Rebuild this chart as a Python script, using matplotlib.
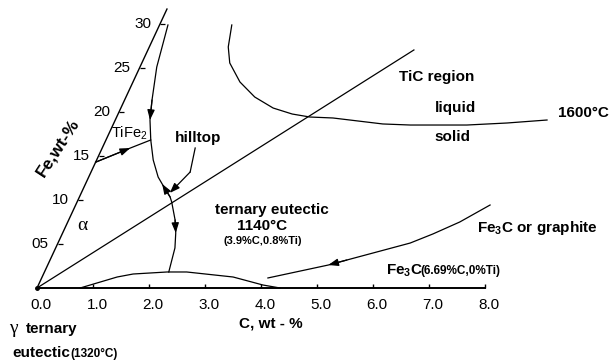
import matplotlib
matplotlib.use("Agg")
import matplotlib.pyplot as plt
import matplotlib.transforms as mtransforms
from matplotlib.markers import TICKUP, TICKRIGHT

plt.rcParams['font.family'] = ['Liberation Sans', 'DejaVu Sans']
plt.rcParams['mathtext.fontset'] = 'custom'
plt.rcParams['mathtext.rm'] = 'Liberation Sans'

# ---------------- data (C wt-%, Fe wt-%) ----------------
c_ticks = [1, 2, 3, 4, 5, 6, 7, 8]
c_tick_labels = ['0.0', '1.0', '2.0', '3.0', '4.0', '5.0', '6.0', '7.0', '8.0']
c_label_pos = [0, 1, 2, 3, 4, 5, 6, 7, 8]
fe_ticks = [5, 10, 15, 20, 25, 30]
fe_tick_labels = ['05', '10', '15', '20', '25', '30']
c_axis_max = 8.0
fe_axis_max = 31.7

# Fe/C ratio line
diag_C = [0.0, 4.75]
diag_Fe = [0.0, 27.05]

# eutectic valley curve (top to bottom)
valley_C = [0.15, 0.30, 0.49, 0.62, 0.80, 1.01, 1.24, 1.37, 1.62, 1.69, 1.90, 2.02, 2.13, 2.22]
valley_Fe = [29.89, 25.11, 21.36, 19.09, 16.82, 14.55, 12.61, 11.82, 10.34, 9.77, 7.73, 6.25, 4.55, 1.82]
valley_arrows = [(2, 3), (8, 7), (10, 11)]

# TiFe2 line
tife_C = [0.0, 0.50, 0.80]
tife_Fe = [14.3, 15.9, 16.82]
tife_arrows = [(0, 1)]

# liquid/solid boundary at 1600 C
liq_C = [1.29, 1.41, 1.57, 1.91, 2.30, 2.72, 3.11, 3.45, 3.87, 4.81, 5.31, 6.32, 7.02, 7.71]
liq_Fe = [29.89, 27.39, 25.57, 23.41, 21.70, 20.45, 19.77, 19.43, 19.32, 18.64, 18.52, 18.52, 18.75, 19.09]

# gamma region bump
bump_C = [0.77, 1.34, 1.60, 2.19, 2.54, 3.41, 4.01, 4.34]
bump_Fe = [0.0, 1.25, 1.59, 1.82, 1.82, 1.25, 0.34, 0.0]

# Fe3C / graphite line
fe3c_C = [4.04, 5.01, 5.30, 6.29, 6.62, 7.00, 7.40]
fe3c_Fe = [1.14, 2.61, 3.18, 5.11, 6.14, 7.50, 9.43]
fe3c_arrows = [(2, 1)]

# hilltop pointer
hill_C = [1.66, 1.77, 1.58]
hill_Fe = [15.91, 13.18, 10.80]

# ---------------- figure ----------------
W, H = 609, 364
fig = plt.figure(figsize=(W / 100, H / 100), dpi=100)
ax = fig.add_axes([0, 0, 1, 1])
ax.axis('off')
px_per_c = 56.0
px_per_fe = 8.8
x0, y0 = 37.0, 288.0
ax.set_xlim(-x0 / px_per_c, (W - x0) / px_per_c)
ax.set_ylim(-(H - y0) / px_per_fe, y0 / px_per_fe)
skew_k = 4.1 / px_per_c
T = mtransforms.Affine2D().from_values(1, 0, skew_k, 1, 0, 0) + ax.transData

lw = 0.9
def line(cs, fes, **kw):
    kw.setdefault('lw', lw)
    ax.plot(cs, fes, color='black', transform=T, solid_joinstyle='round', **kw)

def arrows(cs, fes, pairs):
    for a, b in pairs:
        ax.annotate('', xy=(cs[b], fes[b]), xycoords=T,
                    xytext=(cs[a], fes[a]), textcoords=T,
                    arrowprops=dict(arrowstyle='-|>,head_length=0.6,head_width=0.22',
                                    color='black', lw=lw, shrinkA=0, shrinkB=0,
                                    mutation_scale=10))

# axes
line([0, c_axis_max], [0, 0], lw=1.4)
line([0, 0], [0, fe_axis_max], lw=1.0)
ax.plot(c_ticks, [0] * len(c_ticks), ls='none', marker=TICKUP, ms=3.2, mew=1.0,
        color='black', transform=T)
ax.plot([0] * len(fe_ticks), fe_ticks, ls='none', marker=TICKRIGHT, ms=3.6, mew=0.9,
        color='black', transform=T)
ax.plot([0], [0], ls='none', marker='o', ms=2.5, color='black', transform=T)

for c, lab in zip(c_label_pos, c_tick_labels):
    ax.annotate(lab, xy=(c, 0), xycoords=T, xytext=(4, -17), textcoords='offset pixels',
                ha='center', va='center', fontsize=11)
for f, lab in zip(fe_ticks, fe_tick_labels):
    ax.annotate(lab, xy=(0, f), xycoords=T, xytext=(-9, 0), textcoords='offset pixels',
                ha='right', va='center', fontsize=11)

# curves
line(diag_C, diag_Fe)
line(valley_C, valley_Fe)
arrows(valley_C, valley_Fe, valley_arrows)
line(tife_C, tife_Fe)
arrows(tife_C, tife_Fe, tife_arrows)
line(liq_C, liq_Fe)
line(bump_C, bump_Fe)
line(fe3c_C, fe3c_Fe)
arrows(fe3c_C, fe3c_Fe, fe3c_arrows)
line(hill_C[:2], hill_Fe[:2])
arrows(hill_C, hill_Fe, [(1, 2)])

# ---------------- texts ----------------
def ftext(x, y, s, **kw):
    return fig.text(x / W, 1 - y / H, s, **kw)

B = dict(fontweight='bold')
ftext(58, 148, 'Fe,wt-%', rotation=57, ha='center', va='center', fontsize=12.5, **B)
ftext(129, 133, r'TiFe$_\mathregular{2}$', ha='center', va='center', fontsize=10.5)
ftext(198, 138, 'hilltop', ha='center', va='center', fontsize=11, **B)
ftext(82, 225, 'α', ha='center', va='center', fontsize=14, family='Liberation Serif')
ftext(272, 210, 'ternary eutectic', ha='center', va='center', fontsize=11, **B)
ftext(262, 226, '1140°C', ha='center', va='center', fontsize=11, **B)
ftext(263, 241, '(3.9%C,0.8%Ti)', ha='center', va='center', fontsize=8, **B)
ftext(437, 77, 'TiC region', ha='center', va='center', fontsize=11, **B)
ftext(455, 108, 'liquid', ha='center', va='center', fontsize=11, **B)
ftext(452, 137, 'solid', ha='center', va='center', fontsize=11, **B)
ftext(583, 113, '1600°C', ha='center', va='center', fontsize=11, **B)
ftext(537, 228, r'Fe$_\mathregular{3}$C or graphite', ha='center', va='center', fontsize=11, **B)
ftext(271, 323, 'C, wt - %', ha='center', va='center', fontsize=11, **B)

ftext(386, 274, r'Fe$_\mathregular{3}$C', ha='left', va='baseline', fontsize=11, **B)
ftext(420, 274, '(6.69%C,0%Ti)', ha='left', va='baseline', fontsize=8.5, **B)

ftext(9, 333, 'γ', ha='left', va='baseline', fontsize=14, family='Liberation Serif')
ftext(26, 333, 'ternary', ha='left', va='baseline', fontsize=11, **B)
ftext(12, 357, 'eutectic', ha='left', va='baseline', fontsize=11, **B)
ftext(70, 357, '(1320°C)', ha='left', va='baseline', fontsize=8.5, **B)

fig.savefig('out.png', dpi=100)
